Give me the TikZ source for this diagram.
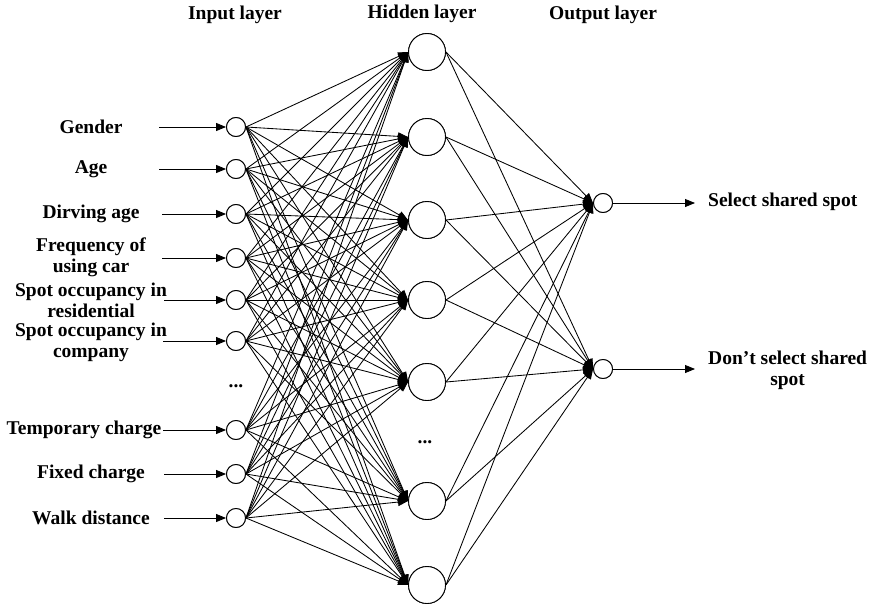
\documentclass[tikz,border=0pt]{standalone}
\usepackage{fontspec}
\setmainfont{Liberation Serif}
\usetikzlibrary{arrows.meta}
\begin{document}
\begin{tikzpicture}[x=1pt,y=-1pt,
  lbl/.style={font=\bfseries\fontsize{19.5}{21}\selectfont, align=center, inner sep=0pt},
  smallnode/.style={circle, draw, line width=0.9pt, minimum size=19pt, inner sep=0pt, fill=white},
  bignode/.style={circle, draw, line width=0.9pt, minimum size=37pt, inner sep=0pt, fill=white},
  wire/.style={line width=0.85pt, -{Triangle[length=10pt,width=8pt]}},
]
\useasboundingbox (0,0) rectangle (874,610);

% layer headings
\node[lbl] (hin)  at (235,15) {Input layer};
\node[lbl] (hhid) at (422,14) {Hidden layer};
\node[lbl] (hout) at (603,15) {Output layer};

% input neurons
\foreach \n/\y in {1/127,2/169,3/214,4/258,5/300,6/341,7/430,8/474,9/518}
  \node[smallnode] (in\n) at (236,\y) {};

% hidden neurons
\foreach \n/\y in {1/52,2/137,3/220,4/300,5/382,6/501,7/585}
  \node[bignode] (h\n) at (427,\y) {};

% output neurons
\node[smallnode] (o1) at (603,203) {};
\node[smallnode] (o2) at (603,369) {};

% ellipses for omitted neurons
\node[lbl] (din) at (236,386) {...};
\node[lbl] (dhid) at (425,442) {...};

% input variable names
\node[lbl] (t1) at (91,127) {Gender};
\node[lbl] (t2) at (91,169) {Age};
\node[lbl] (t3) at (91,214) {Dirving age};
\node[lbl] (t4) at (91,257) {Frequency of\\using car};
\node[lbl] (t5) at (91,300) {Spot occupancy in\\residential};
\node[lbl] (t6) at (91,342) {Spot occupancy in\\company};
\node[lbl] (t7) at (84,430) {Temporary charge};
\node[lbl] (t8) at (91,474) {Fixed charge};
\node[lbl] (t9) at (91,518) {Walk distance};

% feeding arrows into the input layer
\foreach \n/\y/\x in {1/127/159,2/169/159,3/214/162,4/258/162,5/300/164,6/341/163,7/430/163,8/474/164,9/518/164}{
  \coordinate (s\n) at (\x,\y);
  \draw[wire] (s\n) -- (in\n.west);
}

% input -> hidden connections
\foreach \i in {1,...,9}
  \foreach \h in {1,...,7}
    \draw[wire] (in\i.east) -- (h\h.west);

% hidden -> output connections
\foreach \h in {1,...,7}
  \foreach \o in {1,2}
    \draw[wire] (h\h.east) -- (o\o.west);

% redraw neuron outlines over the wires
\foreach \n in {1,...,9} \node[smallnode] at (in\n) {};
\foreach \n in {1,...,7} \node[bignode] at (h\n) {};
\node[smallnode] at (o1) {};
\node[smallnode] at (o2) {};

% output arrows and labels
\coordinate (e1) at (695,203);
\coordinate (e2) at (695,369);
\draw[wire] (o1.east) -- (e1);
\draw[wire] (o2.east) -- (e2);
\node[lbl, anchor=west] (r1) at (708,202) {Select shared spot};
\node[lbl, anchor=west] (r2) at (708,370) {Don’t select shared\\spot};
\end{tikzpicture}
\end{document}
